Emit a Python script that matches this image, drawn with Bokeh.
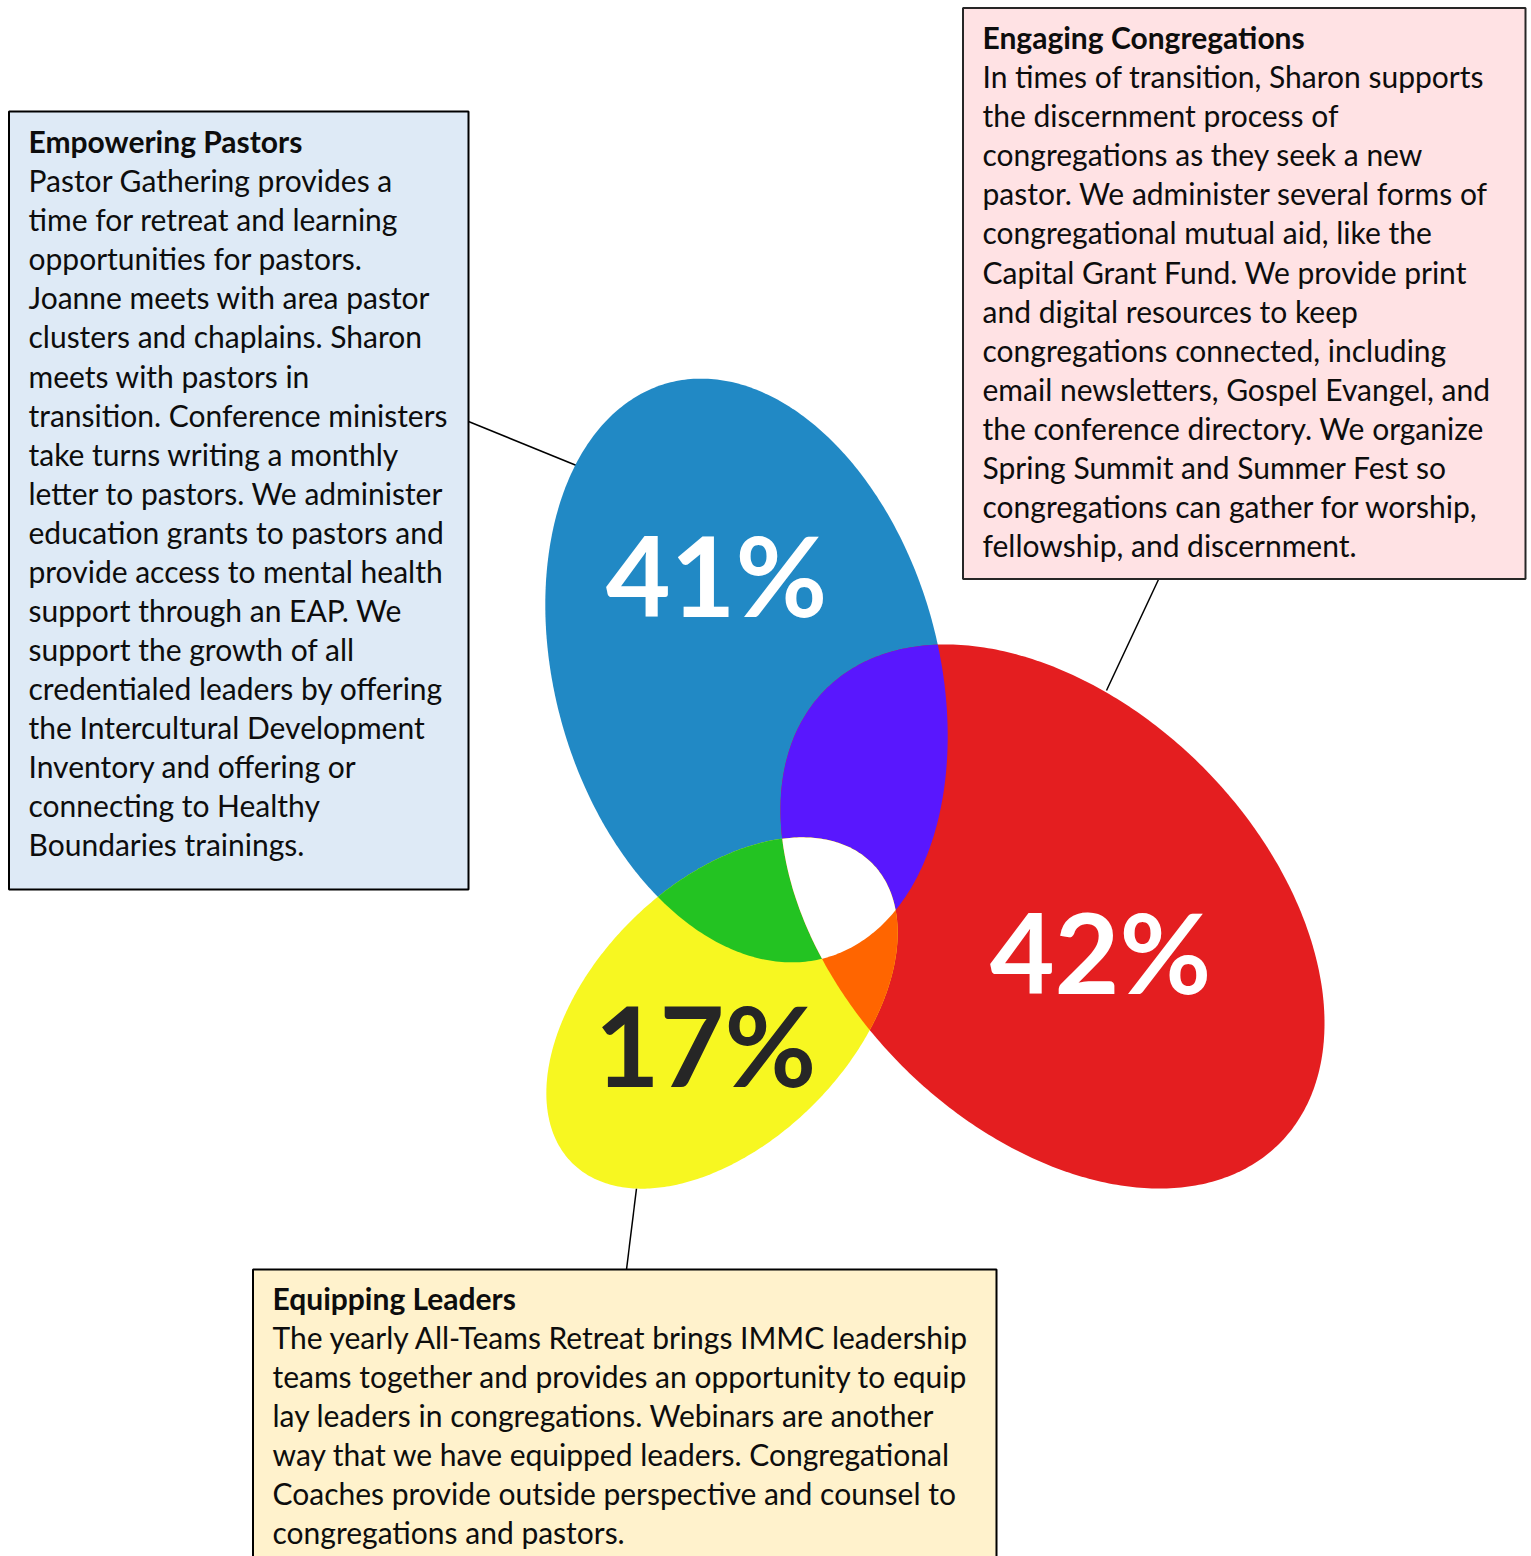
import numpy as np
from bokeh.plotting import figure
from bokeh.models import Range1d
from bokeh.embed import file_html
from bokeh.resources import INLINE
from bokeh.core.properties import value

# ---------------- data ----------------
categories = ["Empowering Pastors", "Engaging Congregations", "Equipping Leaders"]
shares = [41, 42, 17]
share_labels = [f"{s}%" for s in shares]

# petal (ellipse) geometry in page pixels: centre, semi-axes, tilt
petal_cx = [746.0, 1052.0, 721.5]
petal_cy = [670.0, 916.0, 1012.5]
petal_a = [298.0, 321.0, 212.0]
petal_b = [192.0, 212.0, 129.5]
petal_tilt_deg = [74.7, 45.0, -45.0]
petal_colors = ["#2189C5", "#E41E20", "#F7F721"]
overlap_colors = {"01": "#5917FE", "02": "#23C322", "12": "#FF6500", "012": "#FFFFFF"}
label_x = [716, 1100, 705]
label_y = [618, 995, 1088]
label_colors = ["#FFFFFF", "#FFFFFF", "#262626"]
label_size = 112

pastors_lines = [
    "Pastor Gathering provides a",
    "time for retreat and learning",
    "opportunities for pastors.",
    "Joanne meets with area pastor",
    "clusters and chaplains. Sharon",
    "meets with pastors in",
    "transition. Conference ministers",
    "take turns writing a monthly",
    "letter to pastors. We administer",
    "education grants to pastors and",
    "provide access to mental health",
    "support through an EAP. We",
    "support the growth of all",
    "credentialed leaders by offering",
    "the Intercultural Development",
    "Inventory and offering or",
    "connecting to Healthy",
    "Boundaries trainings.",
]
congregations_lines = [
    "In times of transition, Sharon supports",
    "the discernment process of",
    "congregations as they seek a new",
    "pastor. We administer several forms of",
    "congregational mutual aid, like the",
    "Capital Grant Fund. We provide print",
    "and digital resources to keep",
    "congregations connected, including",
    "email newsletters, Gospel Evangel, and",
    "the conference directory. We organize",
    "Spring Summit and Summer Fest so",
    "congregations can gather for worship,",
    "fellowship, and discernment.",
]
leaders_lines = [
    "The yearly All-Teams Retreat brings IMMC leadership",
    "teams together and provides an opportunity to equip",
    "lay leaders in congregations. Webinars are another",
    "way that we have equipped leaders. Congregational",
    "Coaches provide outside perspective and counsel to",
    "congregations and pastors.",
]
box_bodies = [pastors_lines, congregations_lines, leaders_lines]
box_left = [8.5, 962.5, 252.5]
box_right = [468, 1525, 996]
box_top = [111, 7.5, 1269]
box_bottom = [889, 578.5, 1575]
box_fill = ["#DEEAF6", "#FFE2E4", "#FFF2CC"]
box_line = ["#000000", "#262626", "#000000"]
text_x = [28, 982, 272]
text_first_baseline = [152.7, 48.7, 1309.5]
line_step = 39.05
body_size = 30
connector_x0 = [468, 1158, 626]
connector_y0 = [421, 579, 1269]
connector_x1 = [576, 1106, 636]
connector_y1 = [465, 690, 1188]

# empirical shift of the rendered baseline (fraction of font size)
BASE_SHIFT = 0.40

# ---------------- geometry helpers ----------------
def ellipse_poly(cx, cy, a, b, tilt, n=420):
    t = np.linspace(0, 2 * np.pi, n, endpoint=False)
    ph = np.deg2rad(tilt)
    x = cx + a * np.cos(t) * np.cos(ph) - b * np.sin(t) * np.sin(ph)
    y = cy + a * np.cos(t) * np.sin(ph) + b * np.sin(t) * np.cos(ph)
    return list(zip(x.tolist(), y.tolist()))


def clip(subject, clipper):
    area = 0.0
    for i in range(len(clipper)):
        x0, y0 = clipper[i]
        x1, y1 = clipper[(i + 1) % len(clipper)]
        area += x0 * y1 - x1 * y0
    sgn = 1.0 if area > 0 else -1.0
    out = list(subject)
    n = len(clipper)
    for i in range(n):
        if not out:
            break
        ax, ay = clipper[i]
        bx, by = clipper[(i + 1) % n]
        ex, ey = bx - ax, by - ay
        inp = out
        out = []

        def d(P):
            return sgn * (ex * (P[1] - ay) - ey * (P[0] - ax))

        S = inp[-1]
        dS = d(S)
        for E in inp:
            dE = d(E)
            if dE >= 0:
                if dS < 0:
                    t = dS / (dS - dE)
                    out.append((S[0] + t * (E[0] - S[0]), S[1] + t * (E[1] - S[1])))
                out.append(E)
            elif dS >= 0:
                t = dS / (dS - dE)
                out.append((S[0] + t * (E[0] - S[0]), S[1] + t * (E[1] - S[1])))
            S, dS = E, dE
    return out


polys = [ellipse_poly(petal_cx[i], petal_cy[i], petal_a[i], petal_b[i], petal_tilt_deg[i])
         for i in range(3)]
inter01 = clip(polys[0], polys[1])
inter02 = clip(polys[0], polys[2])
inter12 = clip(polys[1], polys[2])
inter012 = clip(inter01, polys[2])

# ---------------- figure ----------------
W, H = 1531, 1556
p = figure(width=W, height=H, x_range=Range1d(0, W), y_range=Range1d(H, 0),
           output_backend="svg", toolbar_location=None, min_border=0,
           background_fill_color="white", border_fill_color="white")
p.axis.visible = False
p.grid.visible = False
p.outline_line_color = None

# connectors
p.segment(x0=connector_x0, y0=connector_y0, x1=connector_x1, y1=connector_y1,
          line_color="#000000", line_width=1.5)

# petals
p.patches(xs=[[q[0] for q in pl] for pl in polys], ys=[[q[1] for q in pl] for pl in polys],
          fill_color=petal_colors, line_color=None)
regions = [inter01, inter02, inter12, inter012]
region_cols = [overlap_colors["01"], overlap_colors["02"], overlap_colors["12"], overlap_colors["012"]]
p.patches(xs=[[q[0] for q in r] for r in regions], ys=[[q[1] for q in r] for r in regions],
          fill_color=region_cols, line_color=None)

# percentage labels
for i in range(3):
    p.text(x=[label_x[i]], y=[label_y[i] - BASE_SHIFT * label_size], text=[share_labels[i]],
           text_font=value("Lato"), text_font_style="bold", text_font_size=f"{label_size}px",
           text_color=label_colors[i], text_align="center", text_baseline="alphabetic")

# boxes
p.quad(left=box_left, right=box_right, top=box_top, bottom=box_bottom,
       fill_color=box_fill, line_color=box_line, line_width=2)

for i in range(3):
    ys = [text_first_baseline[i] - BASE_SHIFT * body_size + line_step * k
          for k in range(len(box_bodies[i]) + 1)]
    p.text(x=[text_x[i]], y=[ys[0]], text=[categories[i]], text_font=value("Lato"),
           text_font_style="bold", text_font_size=f"{body_size}px", text_color="#0D0D0D",
           text_align="left", text_baseline="alphabetic")
    p.text(x=[text_x[i]] * len(box_bodies[i]), y=ys[1:], text=box_bodies[i],
           text_font=value("Lato"), text_font_size=f"{body_size}px", text_color="#0D0D0D",
           text_align="left", text_baseline="alphabetic")

open("out.html", "w").write(file_html(p, INLINE))
